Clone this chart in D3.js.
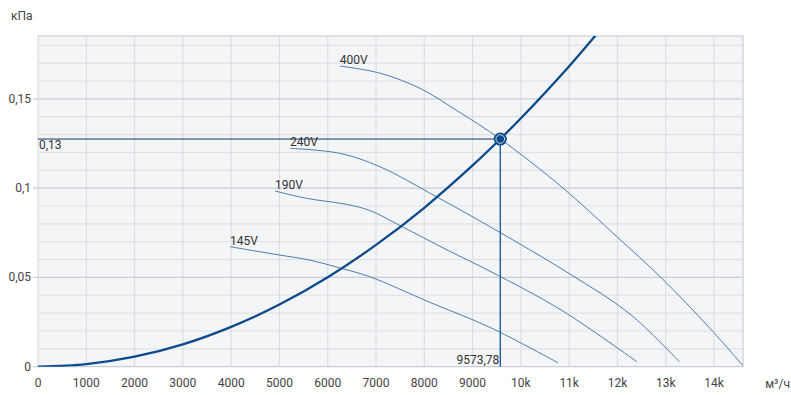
<!DOCTYPE html>
<html>
<head>
<meta charset="utf-8">
<script src="https://cdn.jsdelivr.net/npm/d3@7"></script>
<style>
	body { margin:0; background:#fff; }
	svg text { font-family: Roboto, "Noto Sans", sans-serif; font-size:12px; fill:#444; }
</style>
</head>
<body>
<svg id="chart" width="791" height="395"></svg>
<script>
var x_ticks = [0,1000,2000,3000,4000,5000,6000,7000,8000,9000,10000,11000,12000,13000,14000],
	x_tick_labels = ['0','1000','2000','3000','4000','5000','6000','7000','8000','9000','10k','11k','12k','13k','14k'],
	y_ticks = [0,0.05,0.1,0.15],
	y_tick_labels = ['0','0,05','0,1','0,15'],
	y_minor = [0.01,0.02,0.03,0.04,0.06,0.07,0.08,0.09,0.11,0.12,0.13,0.14,0.16,0.17,0.18]

// system curve
var system_x = [0,1000,2000,3000,4000,5000,6000,7000,8000,9000,9573.78,10000,11000,11700],
	system_y = [0,0.0014,0.0056,0.0125,0.0223,0.0348,0.0501,0.0682,0.089,0.1127,0.1275,0.1391,0.1683,0.1905]

var fan_names = ['400V','240V','190V','145V']
var fan_400_x = [6250,7080,7910,8700,9574,10840,11980,12900,13950,14600],
	fan_400_y = [0.1684,0.1644,0.1559,0.1430,0.1275,0.1008,0.0730,0.0500,0.0205,0.0005]
var fan_240_x = [5220,6250,7080,8250,9360,11010,12260,13280],
	fan_240_y = [0.1223,0.1195,0.1120,0.0952,0.0784,0.0520,0.0295,0.0028]
var fan_190_x = [4910,5560,6390,6870,7500,8500,9360,10850,12400],
	fan_190_y = [0.0984,0.0943,0.0909,0.0875,0.0790,0.0650,0.0535,0.0315,0.0028]
var fan_145_x = [3975,5010,5630,6250,6870,8120,9360,10770],
	fan_145_y = [0.0672,0.0625,0.0597,0.0553,0.0504,0.0360,0.0220,0.0022]

var work_x = 9573.78,
	work_y = 0.1275,
	work_x_label = '9573,78',
	work_y_label = '0,13'

var width = 791, height = 395,
	margin = {top:36, right:48, bottom:28.3, left:38}

var svg = d3.select('#chart')
var x = d3.scaleLinear().domain([0,14600]).range([margin.left, width - margin.right])
var y = d3.scaleLinear().domain([0,0.1852]).range([height - margin.bottom, margin.top])

svg.append('defs').append('clipPath')
	.attr('id','plot-clip')
	.append('rect')
	.attr('x',margin.left)
	.attr('y',margin.top)
	.attr('width',x.range()[1] - margin.left)
	.attr('height',y.range()[0] - margin.top)

svg.append('rect')
	.attr('x',margin.left)
	.attr('y',margin.top)
	.attr('width',x.range()[1] - margin.left)
	.attr('height',y.range()[0] - margin.top)
	.style('fill','#f4f5f7')

svg.append('g').selectAll('line')
	.data(y_minor)
	.join('line')
	.attr('x1',margin.left)
	.attr('x2',x.range()[1])
	.attr('y1',function(d){ return y(d) })
	.attr('y2',function(d){ return y(d) })
	.style('stroke','#dfe1e5')
	.style('stroke-width',1.2)

svg.append('g').selectAll('line')
	.data(x_ticks)
	.join('line')
	.attr('x1',function(d){ return x(d) })
	.attr('x2',function(d){ return x(d) })
	.attr('y1',margin.top)
	.attr('y2',y(0))
	.style('stroke','#dcdee2')
	.style('stroke-width',1.2)

svg.append('g').selectAll('line')
	.data(y_ticks)
	.join('line')
	.attr('x1',margin.left - 5)
	.attr('x2',x.range()[1])
	.attr('y1',function(d){ return y(d) })
	.attr('y2',function(d){ return y(d) })
	.style('stroke','#c9ced6')
	.style('stroke-width',1.2)

// border top / right
svg.append('path')
	.attr('d','M'+margin.left+','+margin.top+'H'+x.range()[1]+'V'+y(0))
	.style('fill','none')
	.style('stroke','#d3d7dd')
	.style('stroke-width',1.5)

svg.append('g').selectAll('text')
	.data(y_ticks)
	.join('text')
	.attr('x',31)
	.attr('y',function(d){ return y(d) + 4 })
	.attr('text-anchor','end')
	.text(function(d,i){ return y_tick_labels[i] })

svg.append('g').selectAll('text')
	.data(x_ticks)
	.join('text')
	.attr('x',function(d){ return x(d) })
	.attr('y',387)
	.attr('text-anchor','middle')
	.text(function(d,i){ return x_tick_labels[i] })

svg.append('text')
	.attr('x',11)
	.attr('y',20)
	.text('кПа')

svg.append('text')
	.attr('x',790)
	.attr('y',388)
	.attr('text-anchor','end')
	.text('м³/ч')

var line = d3.line()
	.x(function(d){ return x(d[0]) })
	.y(function(d){ return y(d[1]) })
	.curve(d3.curveCatmullRom.alpha(0.5))

var fans = [
	{name:fan_names[0], xs:fan_400_x, ys:fan_400_y},
	{name:fan_names[1], xs:fan_240_x, ys:fan_240_y},
	{name:fan_names[2], xs:fan_190_x, ys:fan_190_y},
	{name:fan_names[3], xs:fan_145_x, ys:fan_145_y}
]

var plot = svg.append('g').attr('clip-path','url(#plot-clip)')

fans.forEach(function(f){
	var pts = f.xs.map(function(v,i){ return [v, f.ys[i]] })
	plot.append('path')
		.datum(pts)
		.attr('d',line)
		.style('fill','none')
		.style('stroke','#3b6ea8')
		.style('stroke-width',0.9)
	svg.append('text')
		.attr('x',x(pts[0][0]))
		.attr('y',y(pts[0][1]) - 2)
		.style('fill','#333')
		.text(f.name)
})

// working point guides
svg.append('line')
	.attr('x1',margin.left)
	.attr('x2',x(work_x))
	.attr('y1',y(work_y))
	.attr('y2',y(work_y))
	.style('stroke','#14355c')
	.style('stroke-width',1)

svg.append('line')
	.attr('x1',x(work_x))
	.attr('x2',x(work_x))
	.attr('y1',y(work_y))
	.attr('y2',y(0))
	.style('stroke','#1f5fa3')
	.style('stroke-width',1.4)

svg.append('text')
	.attr('x',margin.left + 1)
	.attr('y',y(work_y) + 10)
	.style('fill','#333')
	.text(work_y_label)

svg.append('text')
	.attr('x',x(work_x) - 1)
	.attr('y',364)
	.attr('text-anchor','end')
	.style('fill','#333')
	.text(work_x_label)

plot.append('path')
	.datum(system_x.map(function(v,i){ return [v, system_y[i]] }))
	.attr('d',line)
	.style('fill','none')
	.style('stroke','#0b4a8b')
	.style('stroke-width',2.3)

svg.append('circle')
	.attr('cx',x(work_x))
	.attr('cy',y(work_y))
	.attr('r',6.5)
	.style('fill','#0b4a8b')
svg.append('circle')
	.attr('cx',x(work_x))
	.attr('cy',y(work_y))
	.attr('r',4.3)
	.style('fill','#0b4a8b')
	.style('stroke','#c9d6e6')
	.style('stroke-width',1)
</script>
</body>
</html>
